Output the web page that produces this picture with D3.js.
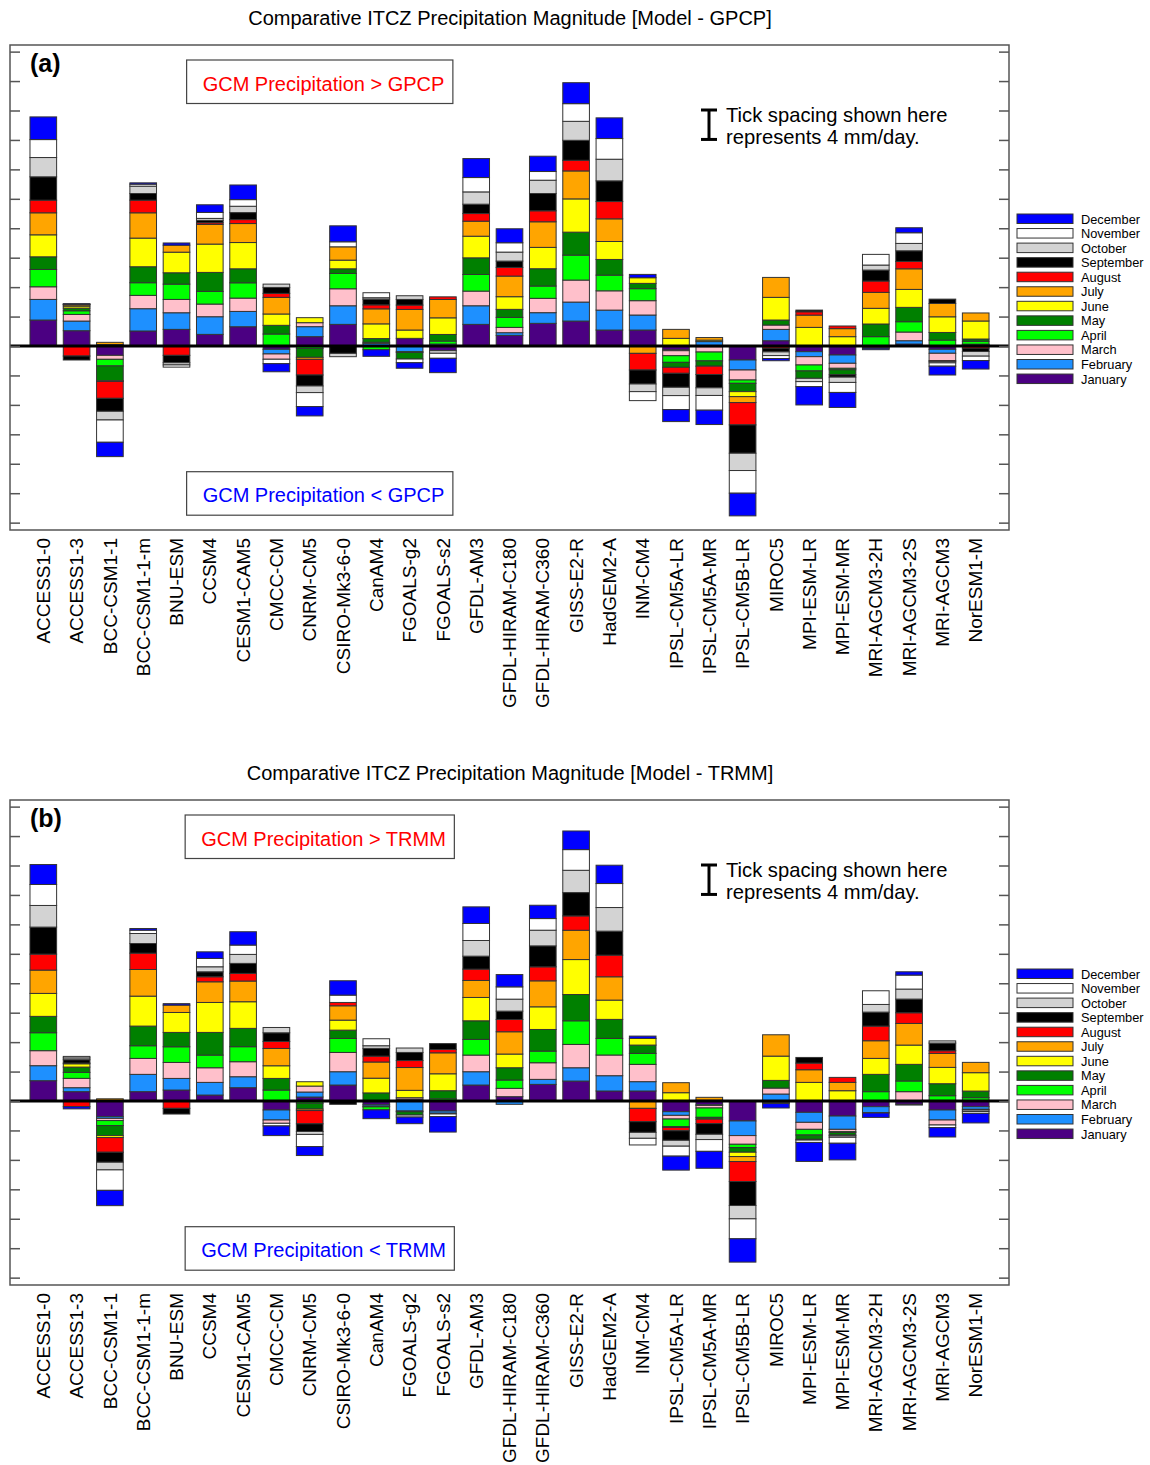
<!DOCTYPE html>
<html>
<head>
<meta charset="utf-8">
<script src="https://cdn.jsdelivr.net/npm/d3@7"></script>
<style>
  body { margin: 0; background: #fff; }
  text { font-family: "Liberation Sans", Arial, Helvetica, sans-serif; }
</style>
</head>
<body>
<svg id="chart" width="1150" height="1465"></svg>
<script>
// Models (x categories)
const models = ["ACCESS1-0","ACCESS1-3","BCC-CSM1-1","BCC-CSM1-1-m","BNU-ESM","CCSM4","CESM1-CAM5",
  "CMCC-CM","CNRM-CM5","CSIRO-Mk3-6-0","CanAM4","FGOALS-g2","FGOALS-s2","GFDL-AM3",
  "GFDL-HIRAM-C180","GFDL-HIRAM-C360","GISS-E2-R","HadGEM2-A","INM-CM4","IPSL-CM5A-LR",
  "IPSL-CM5A-MR","IPSL-CM5B-LR","MIROC5","MPI-ESM-LR","MPI-ESM-MR","MRI-AGCM3-2H",
  "MRI-AGCM3-2S","MRI-AGCM3","NorESM1-M"];

// Series: one per month, stacked January first
const months = ["January","February","March","April","May","June","July",
  "August","September","October","November","December"];
const monthColors = ["#4b0082","#1e90ff","#ffc0cb","#00ff00","#008000","#ffff00","#ffa500",
  "#ff0000","#000000","#d3d3d3","#ffffff","#0000ff"];

// Tick values on the side axes (mm/day)
const yTicks = d3.range(-24, 41, 4);

// Model minus GPCP ITCZ precipitation (mm/day), Jan..Dec per model
const gpcpDiff = [
  [3.53, 2.8, 1.72, 2.35, 1.72, 2.99, 2.99, 1.72, 3.17, 2.62, 2.44, 3.08],
  [2.08, 1.31, 0.9, 0.5, 0.36, 0.27, 0.18, -1.36, -0.54, 0.05, 0.05, 0.05],
  [-1.27, 0.2, -0.54, -0.9, -2.0, -0.1, 0.3, -2.3, -1.76, -1.18, -3.03, -1.95],
  [2.04, 3.03, 1.81, 1.72, 2.17, 3.89, 3.44, 1.72, 0.9, 1.0, 0.27, 0.18],
  [2.26, 2.26, 1.81, 2.08, 1.54, 2.8, 0.95, -1.27, -1.0, -0.3, -0.3, 0.3],
  [1.58, 2.4, 1.72, 1.72, 2.58, 3.85, 2.67, 0.23, 0.32, 0.27, 0.81, 1.04],
  [2.62, 2.08, 1.81, 2.08, 1.9, 3.57, 2.58, 0.54, 0.95, 0.86, 0.9, 1.99],
  [-0.45, -0.63, -0.72, 1.63, 1.18, 1.54, 2.26, 0.54, 0.81, 0.45, -0.6, -1.1],
  [1.27, 1.36, 0.54, -0.32, -1.22, 0.68, -0.27, -2.13, -1.49, -0.9, -1.9, -1.27],
  [2.94, 2.53, 2.31, 2.08, 0.63, 1.18, 1.81, 0, -1.0, -0.45, 0.68, 2.17],
  [0, 0.36, 0.15, -0.5, 0.5, 2.0, 2.04, 0.54, 0.77, 0.2, 0.68, -0.9],
  [1.04, -0.77, 0, -0.1, -0.9, 1.13, 2.8, 0.59, 0.77, 0.5, -0.5, -0.75],
  [-0.63, 0.27, 0, 0.4, 0.9, 2.26, 2.49, 0.36, 0, -0.36, -0.68, -1.95],
  [2.94, 2.53, 1.99, 2.26, 2.26, 2.94, 2.04, 1.04, 1.27, 1.67, 1.95, 2.58],
  [1.45, 0.36, 0.72, 1.36, 1.09, 1.72, 2.8, 1.18, 0.86, 1.22, 1.27, 1.9],
  [3.08, 1.45, 1.95, 1.67, 2.35, 2.9, 3.48, 1.49, 2.35, 1.81, 1.18, 2.08],
  [3.39, 2.58, 2.99, 3.39, 3.12, 4.52, 3.8, 1.45, 2.71, 2.58, 2.4, 2.85],
  [2.17, 2.71, 2.62, 2.13, 2.13, 2.44, 3.08, 2.35, 2.81, 2.94, 2.81, 2.81],
  [2.17, 2.04, 1.95, 1.63, 0.72, 0.77, -1.0, -2.26, -1.9, -1.04, -1.22, 0.45],
  [-0.54, -0.1, -0.68, -0.9, -0.68, 1.04, 1.22, -0.81, -1.9, -1.13, -1.9, -1.63],
  [-0.1, 0.6, -0.72, -1.2, -0.72, 0.2, 0.35, -1.13, -1.81, -1.04, -2.0, -1.95],
  [-1.9, -1.36, -1.36, -0.45, -1.13, -0.68, -0.81, -3.03, -3.85, -2.35, -3.08, -3.08],
  [0.72, 1.54, 0.59, 0, 0.68, 3.08, 2.71, -0.3, -0.5, -0.5, -0.4, -0.3],
  [-0.77, -0.68, -1.13, -0.81, -1.0, 2.53, 1.67, 0.45, 0.23, -0.45, -0.68, -2.49],
  [-1.22, -1.13, -0.68, -0.2, -0.68, 1.27, 1.09, 0.36, -0.32, -0.72, -1.36, -2.04],
  [-0.15, -0.1, -0.05, 1.27, 1.72, 2.13, 2.17, 1.54, 1.49, 0.68, 1.45, -0.2],
  [0.27, 0.45, 1.18, 1.4, 1.95, 2.44, 2.8, 1.0, 1.45, 1.0, 1.45, 0.68],
  [-0.45, -0.54, -1.0, 0.8, 1.04, 2.13, 1.81, -0.1, 0.59, -0.2, -0.45, -1.2],
  [0.1, 0.1, 0.05, 0.4, 0.3, 2.45, 1.09, -0.3, -0.45, -0.63, -0.6, -1.15]
];

// Model minus TRMM ITCZ precipitation (mm/day), Jan..Dec per model
const trmmDiff = [
  [2.76, 2.04, 2.04, 2.44, 2.22, 3.12, 3.17, 2.17, 3.67, 2.94, 2.85, 2.71],
  [1.27, 0.54, 1.27, 0.81, 0.72, 0.45, 0.1, -0.77, 0.45, 0.25, 0.2, -0.3],
  [-2.13, -0.23, -0.3, -0.68, -1.36, -0.27, 0.3, -1.99, -1.36, -1.04, -2.78, -2.08],
  [1.27, 2.35, 2.17, 1.72, 2.67, 4.07, 3.62, 2.22, 1.31, 1.36, 0.45, 0.23],
  [1.49, 1.58, 2.17, 2.13, 1.95, 2.71, 1.0, -1.0, -0.77, 0, 0, 0.2],
  [0.81, 1.72, 1.99, 1.72, 3.08, 4.07, 2.81, 0.68, 0.68, 0.68, 1.13, 0.9],
  [1.81, 1.49, 2.04, 2.04, 2.49, 3.62, 2.81, 1.04, 1.36, 1.22, 1.27, 1.81],
  [-1.22, -1.36, -0.45, 1.49, 1.58, 1.72, 2.35, 0.95, 1.18, 0.72, -0.36, -1.31],
  [0.54, 0.68, 0.81, -0.3, -0.8, 0.59, -0.2, -1.8, -1.04, -0.4, -1.65, -1.22],
  [2.17, 1.81, 2.62, 1.9, 1.13, 1.36, 1.95, 0.45, -0.45, 0, 1.0, 1.95],
  [-0.5, -0.2, -0.1, -0.4, 1.1, 2.0, 2.2, 0.8, 1.05, 0.36, 0.95, -1.2],
  [0.25, -1.36, 0.2, -0.1, -0.45, 1.0, 3.1, 0.95, 1.1, 0.6, -0.27, -0.9],
  [-1.36, -0.3, -0.1, 0.3, 1.1, 2.3, 2.85, 0.45, 0.8, 0, -0.36, -2.1],
  [2.17, 1.81, 2.26, 2.13, 2.53, 3.17, 2.31, 1.54, 1.76, 2.13, 2.31, 2.26],
  [0.59, -0.45, 1.13, 1.13, 1.67, 1.86, 3.03, 1.67, 1.13, 1.63, 1.67, 1.67],
  [2.26, 0.68, 2.26, 1.58, 2.94, 3.08, 3.53, 1.9, 2.85, 2.13, 1.58, 1.81],
  [2.71, 1.81, 3.17, 3.21, 3.57, 4.75, 3.98, 1.95, 3.17, 3.03, 2.81, 2.53],
  [1.36, 2.08, 2.81, 2.26, 2.58, 2.62, 3.17, 2.94, 3.26, 3.21, 3.26, 2.49],
  [1.36, 1.27, 2.35, 1.49, 1.13, 0.9, -1.0, -1.81, -1.45, -0.81, -0.9, 0.32],
  [-1.45, -0.5, -0.5, -1.04, -0.1, 1.13, 1.36, -0.45, -1.3, -0.8, -1.35, -1.9],
  [-0.5, -0.1, -0.35, -1.27, -0.25, 0.1, 0.4, -0.6, -1.45, -0.72, -1.6, -2.3],
  [-2.71, -1.99, -1.18, -0.45, -0.63, -0.59, -0.68, -2.71, -3.26, -1.81, -2.71, -3.17],
  [-0.15, 0.95, 0.81, 0, 1.04, 3.3, 2.9, 0, 0, -0.1, -0.1, -0.6],
  [-1.54, -1.36, -0.95, -0.77, -0.59, 2.53, 1.72, 0.9, 0.77, -0.1, -0.32, -2.58],
  [-2.04, -1.81, -0.32, -0.1, -0.36, 1.4, 1.13, 0.68, -0.1, -0.2, -0.81, -2.26],
  [-0.77, -0.81, -0.05, 1.27, 2.35, 2.17, 2.4, 1.99, 1.9, 1.04, 1.86, -0.6],
  [-0.45, -0.1, 1.27, 1.45, 2.26, 2.62, 2.94, 1.45, 1.86, 1.36, 1.9, 0.45],
  [-1.22, -1.36, -0.68, 0.72, 1.63, 2.22, 1.9, 0.36, 1.04, 0.3, -0.36, -1.27],
  [-0.77, -0.36, -0.1, 0.45, 0.9, 2.5, 1.4, 0, 0, -0.2, -0.25, -1.3]
];

const panels = [
  { ref: "GPCP", tag: "(a)", rows: gpcpDiff, top: 45 },
  { ref: "TRMM", tag: "(b)", rows: trmmDiff, top: 800 }
];

const svg = d3.select("#chart");
const left = 10, right = 1009, plotH = 485;
const frameColor = "#555";

const x = d3.scaleBand().domain(models).range([left, right])
  .paddingInner(0.2).paddingOuter(0.6);

function drawPanel(p) {
  const g = svg.append("g");
  const y = d3.scaleLinear().domain([-25, 40.9]).range([p.top + plotH, p.top]);

  const table = models.map((m, i) => {
    const row = { model: m };
    months.forEach((mo, j) => { row[mo] = p.rows[i][j]; });
    return row;
  });
  const series = d3.stack().keys(months).offset(d3.stackOffsetDiverging)(table);

  // Title
  g.append("text")
    .attr("x", 510).attr("y", p.top - 20)
    .attr("text-anchor", "middle").attr("font-size", 20)
    .text(`Comparative ITCZ Precipitation Magnitude [Model - ${p.ref}]`);

  // Stacked monthly bars
  g.append("g").selectAll("g").data(series).join("g")
    .attr("fill", (d, i) => monthColors[i])
    .selectAll("rect").data(d => d.filter(s => s[1] !== s[0])).join("rect")
      .attr("x", d => x(d.data.model))
      .attr("width", x.bandwidth())
      .attr("y", d => y(Math.max(d[0], d[1])))
      .attr("height", d => Math.abs(y(d[0]) - y(d[1])))
      .attr("stroke", "#333").attr("stroke-width", 1);

  // Zero line
  g.append("line")
    .attr("x1", left).attr("x2", right)
    .attr("y1", y(0)).attr("y2", y(0))
    .attr("stroke", "#000").attr("stroke-width", 3);

  // Frame and inward ticks on both sides
  g.append("rect")
    .attr("x", left).attr("y", p.top)
    .attr("width", right - left).attr("height", plotH)
    .attr("fill", "none").attr("stroke", frameColor).attr("stroke-width", 1.5);

  const tickAxis = (axis, xPos) => g.append("g")
    .attr("transform", `translate(${xPos},0)`)
    .call(axis.tickValues(yTicks).tickSize(-10).tickFormat(""))
    .call(a => a.select(".domain").remove())
    .call(a => a.selectAll("line").attr("stroke", frameColor).attr("stroke-width", 1.5));
  tickAxis(d3.axisLeft(y), left);
  tickAxis(d3.axisRight(y), right);

  // Model names
  g.append("g").selectAll("text").data(models).join("text")
    .attr("transform", m => `translate(${x(m) + x.bandwidth() / 2},${p.top + plotH + 8}) rotate(-90)`)
    .attr("text-anchor", "end").attr("dy", "0.35em")
    .attr("font-size", 19)
    .text(m => m);

  // Panel tag
  g.append("text")
    .attr("x", 30).attr("y", p.top + 27)
    .attr("font-size", 25).attr("font-weight", "bold")
    .text(p.tag);

  // Sign annotation boxes
  const note = (label, color, baseline, boxTop) => {
    const t = g.append("text")
      .attr("x", 323.5).attr("y", baseline)
      .attr("text-anchor", "middle").attr("font-size", 20)
      .attr("fill", color).text(label);
    const bb = t.node().getBBox();
    g.insert("rect", () => t.node())
      .attr("x", bb.x - 16).attr("y", boxTop)
      .attr("width", bb.width + 24.5).attr("height", 43.5)
      .attr("fill", "#fff").attr("stroke", "#444").attr("stroke-width", 1.2);
  };
  note(`GCM Precipitation > ${p.ref}`, "#ff0000", p.top + 46, p.top + 15);
  note(`GCM Precipitation < ${p.ref}`, "#0000ff", p.top + 457, p.top + 426.7);

  // Tick-spacing key: an I-bar spanning one tick interval
  const barTop = p.top + 65;
  const barLen = y(0) - y(4);
  const kx = 709;
  const key = g.append("g").attr("stroke", "#000").attr("stroke-width", 3);
  key.append("line").attr("x1", kx).attr("x2", kx).attr("y1", barTop).attr("y2", barTop + barLen);
  key.append("line").attr("x1", kx - 8).attr("x2", kx + 8).attr("y1", barTop).attr("y2", barTop);
  key.append("line").attr("x1", kx - 8).attr("x2", kx + 8).attr("y1", barTop + barLen).attr("y2", barTop + barLen);
  g.append("text").attr("x", 726).attr("y", p.top + 77).attr("font-size", 20.2).text("Tick spacing shown here");
  g.append("text").attr("x", 726).attr("y", p.top + 99).attr("font-size", 20.2).text("represents 4 mm/day.");

  // Month legend, December on top
  const lg = g.append("g");
  months.forEach((mo, j) => {
    const ry = p.top + 169 + (11 - j) * 14.55;
    lg.append("rect")
      .attr("x", 1017).attr("y", ry).attr("width", 56).attr("height", 9.5)
      .attr("fill", monthColors[j]).attr("stroke", "#333").attr("stroke-width", 1);
    lg.append("text")
      .attr("x", 1081).attr("y", ry + 9.5)
      .attr("font-size", 12.8).text(mo);
  });
}

panels.forEach(drawPanel);
</script>
</body>
</html>
